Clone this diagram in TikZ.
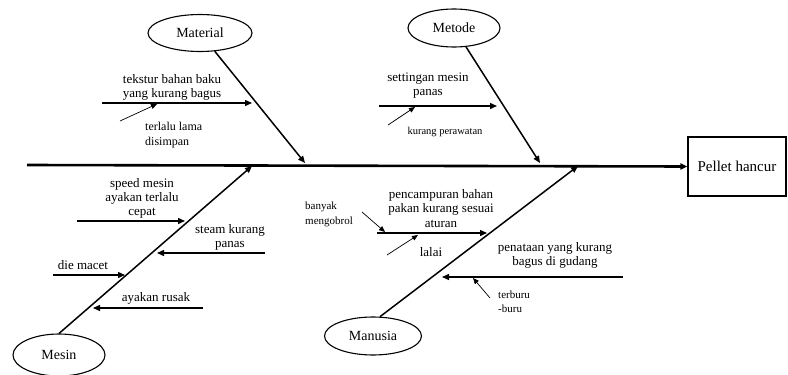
\documentclass[tikz,border=0pt]{standalone}
\usepackage{fontspec}
\setmainfont{Liberation Serif}
\usetikzlibrary{shapes.geometric,arrows.meta}

\begin{document}
\begin{tikzpicture}[x=1pt,y=-1pt,
	spine/.style={line width=2.6pt,-{Triangle[length=7pt,width=6pt]}},
	bone/.style={line width=1.5pt,-{Triangle[length=7pt,width=6pt]}},
	twig/.style={line width=1.4pt,-{Triangle[length=7pt,width=6pt]}},
	hint/.style={line width=0.7pt,-{Triangle[length=6pt,width=5pt]}},
	cat/.style={draw,ellipse,line width=1.1pt,inner sep=0pt,font=\fontsize{14}{16}\selectfont},
	cause/.style={align=center,inner sep=0pt,font=\fontsize{13}{14}\selectfont},
	note/.style={align=left,inner sep=0pt,font=\fontsize{12}{15}\selectfont}]
	\useasboundingbox (0,0) rectangle (788,375);
	% effect
	\node[draw,line width=1.1pt,minimum width=98pt,minimum height=59pt,font=\fontsize{15}{17}\selectfont] (effect) at (737,166.5) {Pellet hancur};
	\coordinate (tail) at (27,165);
	\draw[spine] (tail) -- (effect.west);
	% Material
	\node[cat,minimum width=104pt,minimum height=37pt] (material) at (200,33) {Material};
	\coordinate (matTip) at (305,163);
	\draw[bone] (material) -- (matTip);
	\node[cause,anchor=base] (tekstur) at (172,97) {tekstur bahan baku\\yang kurang bagus};
	\coordinate (teksturA) at (102,103);
	\coordinate (teksturB) at (252,103);
	\draw[twig] (teksturA) -- (teksturB);
	\node[note,anchor=base west] (lama) at (145,145) {terlalu lama\\disimpan};
	\coordinate (lamaA) at (120,121);
	\coordinate (lamaB) at (157,104);
	\draw[hint] (lamaA) -- (lamaB);
	% Metode
	\node[cat,minimum width=92pt,minimum height=38pt] (metode) at (454,28) {Metode};
	\coordinate (metTip) at (540,163);
	\draw[bone] (metode) -- (metTip);
	\node[cause,anchor=base] (setting) at (428,95) {settingan mesin\\panas};
	\coordinate (settingA) at (379,106);
	\coordinate (settingB) at (497,106);
	\draw[twig] (settingA) -- (settingB);
	\node[note,anchor=base,font=\fontsize{10.5}{13}\selectfont] (rawat) at (445,134) {kurang perawatan};
	\coordinate (rawatA) at (388,125);
	\coordinate (rawatB) at (415,107);
	\draw[hint] (rawatA) -- (rawatB);
	% Mesin
	\node[cat,minimum width=92pt,minimum height=42pt] (mesin) at (59,355) {Mesin};
	\coordinate (mesTip) at (252,166);
	\draw[bone] (mesin.north) -- (mesTip);
	\node[cause,anchor=base] (speed) at (142,215) {speed mesin\\ayakan terlalu\\cepat};
	\coordinate (speedA) at (77,221);
	\coordinate (speedB) at (185,221);
	\draw[twig] (speedA) -- (speedB);
	\node[cause,anchor=base] (steam) at (230,247) {steam kurang\\panas};
	\coordinate (steamA) at (265,253);
	\coordinate (steamB) at (157,253);
	\draw[twig] (steamA) -- (steamB);
	\node[cause,anchor=base] (die) at (83,269) {die macet};
	\coordinate (dieA) at (53,275);
	\coordinate (dieB) at (125,275);
	\draw[twig] (dieA) -- (dieB);
	\node[cause,anchor=base] (ayakan) at (156,301) {ayakan rusak};
	\coordinate (ayakanA) at (203,308);
	\coordinate (ayakanB) at (93,308);
	\draw[twig] (ayakanA) -- (ayakanB);
	% Manusia
	\node[cat,minimum width=97pt,minimum height=38pt] (manusia) at (373,336) {Manusia};
	\coordinate (manTip) at (578,166);
	\draw[bone] (manusia.70) -- (manTip);
	\node[cause,anchor=base,font=\fontsize{13}{14.5}\selectfont] (campur) at (441,227) {pencampuran bahan\\pakan kurang sesuai\\aturan};
	\coordinate (campurA) at (377,233);
	\coordinate (campurB) at (487,233);
	\draw[twig] (campurA) -- (campurB);
	\node[note,anchor=base west,font=\fontsize{11}{15}\selectfont] (ngobrol) at (305,224) {banyak\\mengobrol};
	\coordinate (ngobrolA) at (362,212);
	\coordinate (ngobrolB) at (385,232);
	\draw[hint] (ngobrolA) -- (ngobrolB);
	\node[cause,anchor=base] (lalai) at (431,256) {lalai};
	\coordinate (lalaiA) at (387,255);
	\coordinate (lalaiB) at (418,235);
	\draw[hint] (lalaiA) -- (lalaiB);
	\node[cause,anchor=base,font=\fontsize{13}{13.5}\selectfont] (tata) at (555,265) {penataan yang kurang\\bagus di gudang};
	\coordinate (tataA) at (623,277);
	\coordinate (tataB) at (442,277);
	\draw[twig] (tataA) -- (tataB);
	\node[note,anchor=base west,font=\fontsize{11}{14}\selectfont] (buru) at (498,312) {terburu\\-buru};
	\coordinate (buruA) at (490,298);
	\coordinate (buruB) at (473,278);
	\draw[hint] (buruA) -- (buruB);
\end{tikzpicture}
\end{document}
